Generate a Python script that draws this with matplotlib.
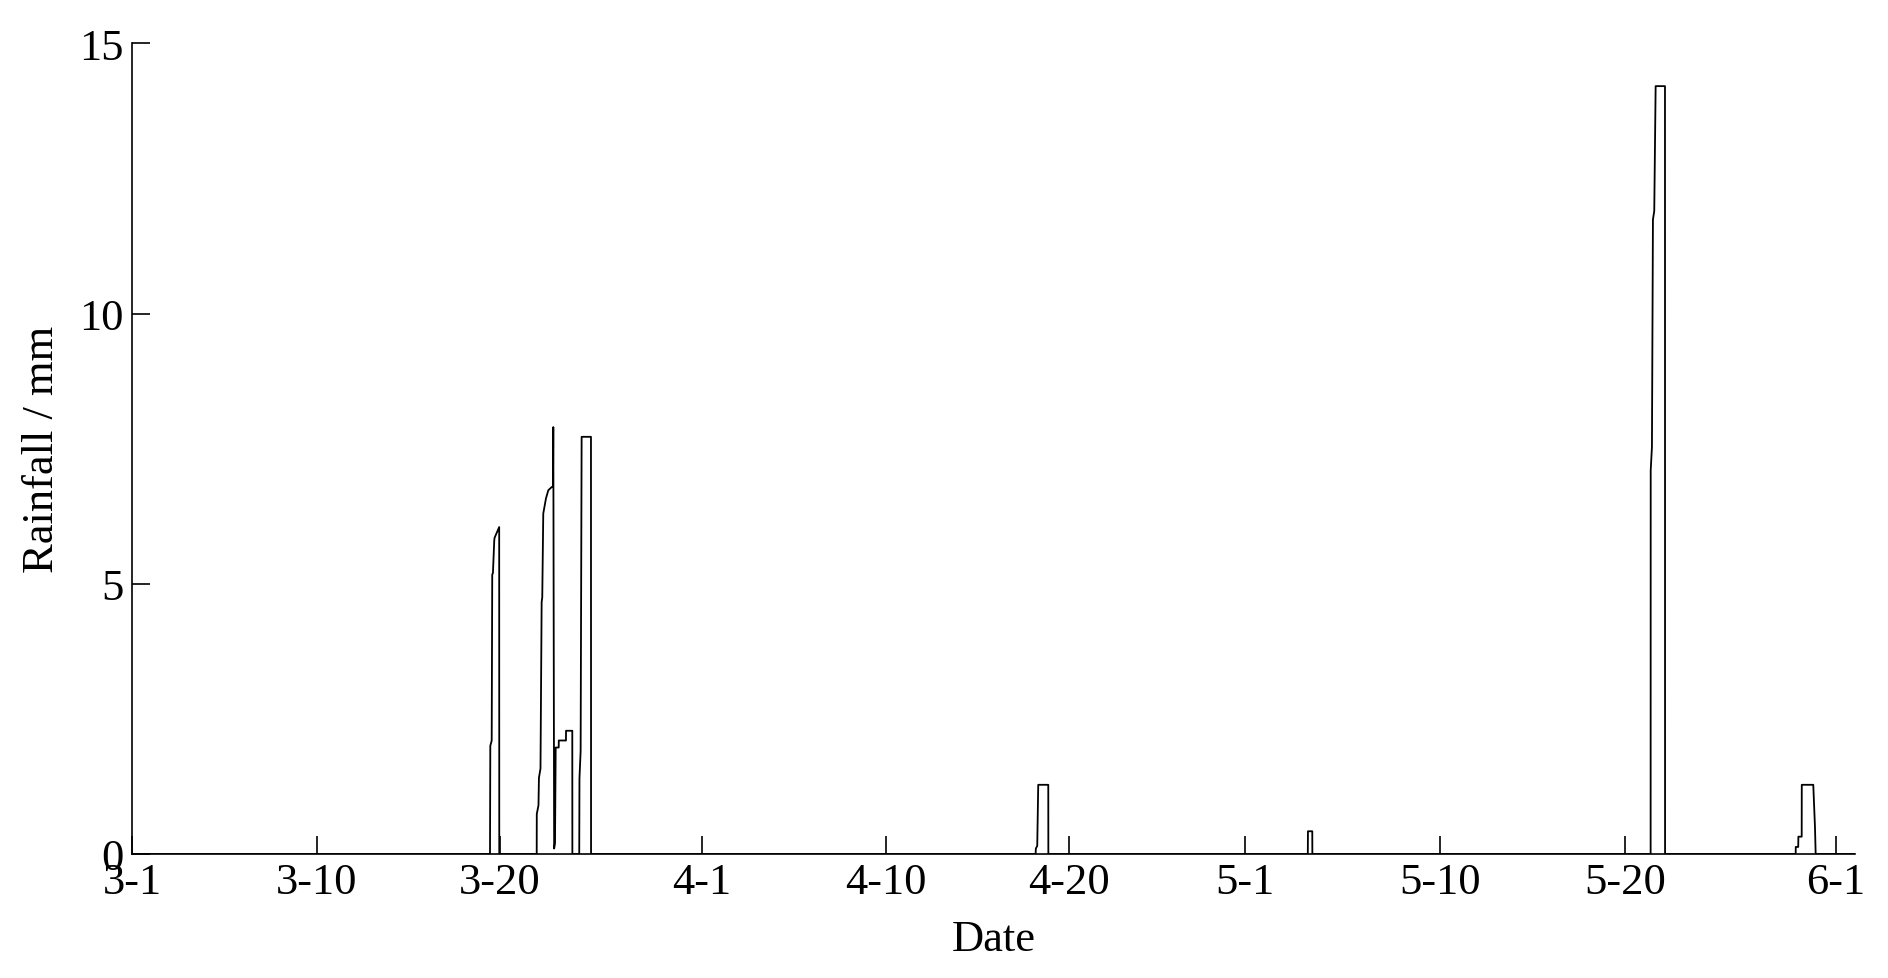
import numpy as np
import matplotlib
matplotlib.use("Agg")
import matplotlib.pyplot as plt

#Record index (roughly hourly samples from 3-1) and the rainfall at each one
#Only the rain events are listed, the rest of the record is 0
t_index = [0,
           463.8, 464.2, 466.0, 466.7, 467.6, 469.3, 469.7, 475.7, 475.8,
           524.3, 524.4, 526.6, 527.2, 529.2, 530.7, 531.5, 532.8, 536.3, 539.3,
           543.7, 545.4, 545.8, 546.9, 548.0, 548.9, 552.8, 552.9, 562.2, 562.3,
           570.4, 570.5,
           579.4, 579.7, 581.2, 582.5, 594.6, 594.7,
           1170.6, 1170.9, 1172.7, 1174.0, 1187.0, 1187.1,
           1523.2, 1523.4, 1529.0, 1529.1,
           1967.3, 1967.4, 1969.0, 1970.3, 1972.0, 1973.8, 1985.9, 1986.0,
           2155.2, 2155.3, 2158.5, 2158.7, 2163.0, 2163.1, 2178.0, 2180.2, 2181.1,
           2232]
rain_mm = [0,
           0, 2.0, 2.1, 5.17, 5.2, 5.8, 5.85, 6.05, 0,
           0, 0.74, 0.9, 1.41, 1.58, 4.66, 4.75, 6.3, 6.58, 6.73,
           6.79, 6.8, 7.9, 0.1, 0.2, 1.97, 1.97, 2.1, 2.1, 2.28,
           2.28, 0,
           0, 1.4, 1.9, 7.72, 7.72, 0,
           0, 0.1, 0.15, 1.28, 1.28, 0,
           0, 0.42, 0.42, 0,
           0, 7.1, 7.53, 11.74, 11.9, 14.21, 14.21, 0,
           0, 0.13, 0.13, 0.32, 0.32, 1.28, 1.28, 0.5, 0,
           0]

#Where the date ticks sit on the record index
tick_pos = [0, 239.7, 476.7, 738.4, 976.8, 1214.2, 1441.8, 1694.4, 1934.1, 2207.0]
tick_labels = ['3-1', '3-10', '3-20', '4-1', '4-10', '4-20', '5-1', '5-10', '5-20', '6-1']
y_ticks = [0, 5, 10, 15]

plt.rcParams['font.family'] = ['Liberation Serif', 'DejaVu Serif']
plt.rcParams['font.size'] = 32

fig = plt.figure(figsize=(18.88, 9.79), dpi=100)
ax = fig.add_axes([0.0699, 0.1267, 0.9126, 0.8279])

ax.plot(t_index, rain_mm, color='black', linewidth=1.3)

ax.set_xlim(0, 2232)
ax.set_ylim(0, 15)
ax.set_xticks(tick_pos)
ax.set_xticklabels(tick_labels)
ax.set_yticks(y_ticks)

#matlab style: ticks inside, only left / bottom axes
ax.spines['top'].set_visible(False)
ax.spines['right'].set_visible(False)
for s in ['left', 'bottom']:
    ax.spines[s].set_linewidth(1.2)
ax.tick_params(axis='both', direction='in', length=13, width=1.2, pad=6)

ax.set_xlabel('Date', labelpad=12)
ax.set_ylabel('Rainfall / mm', labelpad=12)

fig.savefig('out.png', dpi=100, facecolor='white')
